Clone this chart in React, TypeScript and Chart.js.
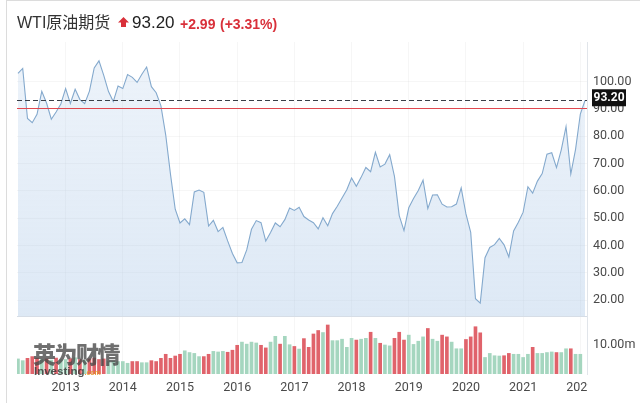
import React, { useEffect, useRef } from "react";
import { Chart, registerables } from "chart.js";

Chart.register(...registerables);

// ---------- data ----------
const TITLE = "WTI原油期货";
const LAST_PRICE = 93.2;
const PREV_CLOSE = 90.21;
const LAST_PRICE_TEXT = "93.20";
const CHANGE_TEXT = "+2.99";
const CHANGE_PCT_TEXT = "(+3.31%)";

const START_YEAR = 2012;
const START_MONTH = 3;

// monthly closes, Mar 2012 .. Feb 2022
const PRICE_CLOSE: number[] = [
  103.02, 104.87, 86.53, 84.96, 88.06, 96.47, 92.19, 86.24, 88.91, 91.82,
  97.49, 92.05, 97.23, 93.46, 91.97, 96.56, 105.03, 107.65, 102.33, 96.38, 92.72, 98.42,
  97.49, 102.59, 101.58, 99.74, 102.71, 105.37, 98.17, 95.96, 91.16, 80.54, 66.15, 53.27,
  48.24, 49.76, 47.6, 59.63, 60.3, 59.47, 47.12, 49.2, 45.09, 46.59, 41.65, 37.04,
  33.62, 33.75, 38.34, 45.92, 49.1, 48.33, 41.6, 44.7, 48.24, 46.86, 49.44, 53.72,
  52.81, 54.01, 50.6, 49.33, 48.32, 46.04, 50.17, 47.23, 51.67, 54.38, 57.4, 60.42,
  64.73, 61.64, 64.94, 68.57, 67.04, 74.15, 68.76, 69.8, 73.25, 65.31, 50.93, 45.41,
  53.79, 57.22, 60.14, 63.91, 53.5, 58.47, 58.58, 55.1, 54.07, 54.18, 55.17, 61.06,
  51.56, 44.76, 20.48, 18.84, 35.49, 39.27, 40.27, 42.61, 40.22, 35.79, 45.34, 48.52,
  52.2, 61.5, 59.16, 63.58, 66.32, 73.47, 73.95, 68.5, 75.03, 83.57, 66.18, 75.21,
  88.15, 93.2,
];

// monthly volume, millions
const VOLUME_M: (number | null)[] = [
  5.2, 4.6, 5.4, 6.0, 5.5, 5.0, 5.2, 4.8, 5.5, 4.9, 5.0, 5.3, 5.6, 5.0, 4.7, 5.2, 5.5, 5.0, 5.2, 4.5, 4.4,
  4.3, 4.3, 3.7, 4.3, 4.3, 3.9, 3.9, 4.6, 4.3, 5.4, 6.8, 5.4, 6.2, 6.8,
  8.0, 7.4, 7.1, 6.0, 6.0, 6.8, 7.8, 7.6,
  7.8, 7.5, 8.2, 9.9, 11.0, 10.3, 11.0, 10.7, 9.9, 9.0, 11.0, 13.0, 10.3, 13.0, 10.1, 9.5, 8.6, 12.2, 9.2, 13.8, 15.0,
  14.3, 16.9, 11.5, 11.5, 12.0, 9.2, 12.3, 11.7, 12.0, 12.3, 14.4, 12.3, 10.6, 10.0, 9.7, 12.3, 14.4, 11.7,
  13.4, 10.2, 11.3, 12.8, 15.7, 12.0, 11.3, 13.4, 12.8, 11.0, 8.7, 8.7, 11.9, 12.8, 16.3, 14.2,
  5.7, 7.1, 6.3, 6.2, 6.3, 7.1, 6.8, 6.8, 5.7, 6.8, 9.2, 7.1, 7.1, 7.4, 7.6, 7.4, 7.4, 8.7, 8.7, 6.8, 6.8,
  null,
];

// bar colour per month: r = red, g = green
const VOLUME_DIR: string[] = [
  "g", "g", "r", "r", "r", "g", "r", "g", "r", "g", "g", "r", "g", "r", "g", "r", "r", "r", "r", "g", "g",
  "g", "g", "g", "r", "r", "g", "g", "r", "r", "r", "r", "r", "r", "r",
  "g", "g", "g", "g", "r", "r", "g", "g",
  "g", "r", "r", "r", "g", "g", "g", "g", "r", "r", "g", "g", "r", "g", "g", "r", "g", "r", "r", "r", "r",
  "g", "r", "g", "g", "g", "g", "g", "r", "g", "g", "r", "g", "r", "g", "g", "r", "r", "r",
  "g", "g", "g", "g", "r", "g", "g", "r", "r", "g", "g", "g", "r", "r", "r", "r",
  "g", "g", "g", "g", "r", "r", "g", "g", "g", "g", "r", "g", "g", "g", "g", "r", "g", "g", "r", "g", "g",
  "g",
];

const YEAR_TICK_LABELS = ["2013", "2014", "2015", "2016", "2017", "2018", "2019", "2020", "2021", "2022"];
const PRICE_TICKS = [20, 30, 40, 50, 60, 70, 80, 90, 100];
const VOLUME_TICKS = [10];

const MONTH_LABELS: string[] = PRICE_CLOSE.map((_, i) => {
  const m = START_MONTH - 1 + i;
  const y = START_YEAR + Math.floor(m / 12);
  const mm = (m % 12) + 1;
  return `${y}-${mm < 10 ? "0" + mm : mm}`;
});
const YEAR_TICK_INDEX = YEAR_TICK_LABELS.map((y) => MONTH_LABELS.indexOf(`${y}-01`));

// ---------- styles ----------
const LINE_COLOR = "#84a9cd";
const RED = "#e0636b";
const GREEN = "#a5d6bf";
const GRID = "rgba(0,0,0,0.035)";
const AXIS_TEXT = "#4a4a4a";
const FONT = "Roboto, 'Liberation Sans', Arial, sans-serif";

const overlayPlugin = {
  id: "overlay",
  afterDatasetsDraw(chart: any) {
    const { ctx, chartArea } = chart;
    const ys = chart.scales.y;
    ctx.save();
    // panel separator
    ctx.strokeStyle = "#d6dde6";
    ctx.lineWidth = 1;
    ctx.beginPath();
    ctx.moveTo(chartArea.left, Math.round(ys.bottom) + 0.5);
    ctx.lineTo(chartArea.right, Math.round(ys.bottom) + 0.5);
    ctx.stroke();
    // previous close line
    const yPrev = Math.round(ys.getPixelForValue(PREV_CLOSE)) + 0.5;
    ctx.strokeStyle = "#e0474f";
    ctx.beginPath();
    ctx.moveTo(chartArea.left, yPrev);
    ctx.lineTo(chartArea.right, yPrev);
    ctx.stroke();
    // last price dashed line
    const yLast = Math.round(ys.getPixelForValue(LAST_PRICE)) + 0.5;
    ctx.strokeStyle = "#3a3f47";
    ctx.setLineDash([5, 3]);
    ctx.beginPath();
    ctx.moveTo(chartArea.left, yLast);
    ctx.lineTo(chartArea.right, yLast);
    ctx.stroke();
    ctx.restore();
  },
  afterDraw(chart: any) {
    const { ctx, chartArea } = chart;
    const ys = chart.scales.y;
    const yLast = ys.getPixelForValue(LAST_PRICE);
    ctx.save();
    ctx.fillStyle = "#111";
    ctx.fillRect(chartArea.right + 5, yLast - 11, 34, 17);
    ctx.fillStyle = "#fff";
    ctx.font = `bold 12px ${FONT}`;
    ctx.textAlign = "center";
    ctx.textBaseline = "middle";
    ctx.fillText(LAST_PRICE_TEXT, chartArea.right + 22, yLast - 2.5);
    // right panel background over the last year label's overflow
    ctx.fillStyle = "#fff";
    ctx.fillRect(chartArea.right + 1, chartArea.bottom + 2, 60, 30);
    ctx.restore();
  },
};

export default function App() {
  const ref = useRef<HTMLCanvasElement | null>(null);

  useEffect(() => {
    const canvas = ref.current;
    if (!canvas) return;
    const chart = new Chart(canvas, {
      type: "bar",
      data: {
        datasets: [
          {
            type: "line",
            label: "WTI",
            data: PRICE_CLOSE.map((v, i) => ({ x: i, y: v })),
            yAxisID: "y",
            xAxisID: "x",
            borderColor: LINE_COLOR,
            borderWidth: 1.1,
            pointRadius: 0,
            tension: 0,
            fill: "start",
            order: 1,
            backgroundColor: (c: any) => {
              const ch = c.chart;
              const ys = ch.scales && ch.scales.y;
              if (!ch.chartArea || !ys) return "rgba(175,200,228,0.3)";
              const g = ch.ctx.createLinearGradient(0, ys.top, 0, ys.bottom);
              g.addColorStop(0, "rgba(175,202,232,0.22)");
              g.addColorStop(1, "rgba(175,202,232,0.42)");
              return g;
            },
          } as any,
          {
            type: "bar",
            label: "Volume",
            data: VOLUME_M.map((v, i) => ({ x: i, y: v })),
            yAxisID: "yv",
            xAxisID: "x",
            backgroundColor: VOLUME_DIR.map((d) => (d === "r" ? RED : GREEN)),
            barThickness: 3,
            order: 2,
          } as any,
        ],
      },
      options: {
        animation: false,
        responsive: false,
        events: [],
        layout: { padding: { left: 17, top: 42, right: 0, bottom: 0 } },
        plugins: { legend: { display: false }, tooltip: { enabled: false } },
        scales: {
          x: {
            type: "linear",
            min: -0.2,
            max: 119.4,
            offset: false,
            grid: { color: GRID, drawTicks: false, offset: false },
            border: { display: false },
            afterBuildTicks: (s: any) => {
              s.ticks = YEAR_TICK_INDEX.map((v) => ({ value: v }));
            },
            afterFit: (s: any) => {
              s.height = 29;
            },
            ticks: {
              autoSkip: false,
              maxRotation: 0,
              padding: 6,
              color: AXIS_TEXT,
              font: { family: FONT, size: 12.5 },
              callback: (v: any) => {
                const k = YEAR_TICK_INDEX.indexOf(Number(v));
                return k >= 0 ? YEAR_TICK_LABELS[k] : "";
              },
            },
          },
          y: {
            type: "linear",
            position: "right",
            stack: "panels",
            stackWeight: 274,
            min: 14.14,
            max: 114.55,
            grid: { color: GRID, drawTicks: false },
            border: { display: true, color: "#e1e5ea" },
            afterBuildTicks: (s: any) => {
              s.ticks = PRICE_TICKS.map((v) => ({ value: v }));
            },
            afterFit: (s: any) => {
              s.width = 53;
            },
            ticks: {
              padding: 6,
              color: AXIS_TEXT,
              font: { family: FONT, size: 12.5 },
              callback: (v: any) => Number(v).toFixed(2),
            },
          },
          yv: {
            type: "linear",
            position: "right",
            stack: "panels",
            stackWeight: 58,
            min: 0,
            max: 20,
            grid: { display: false, drawTicks: false },
            border: { display: true, color: "#e1e5ea" },
            afterBuildTicks: (s: any) => {
              s.ticks = VOLUME_TICKS.map((v) => ({ value: v }));
            },
            afterFit: (s: any) => {
              s.width = 53;
            },
            ticks: {
              padding: 6,
              color: AXIS_TEXT,
              font: { family: FONT, size: 12.5 },
              callback: (v: any) => Number(v).toFixed(2) + "m",
            },
          },
        },
      } as any,
      plugins: [overlayPlugin],
    });
    return () => chart.destroy();
  }, []);

  const titleFont = "'Liberation Sans', Arial, 'Noto Sans CJK SC', sans-serif";

  return (
    <div
      style={{
        position: "fixed",
        left: 0,
        top: 0,
        width: 640,
        height: 403,
        background: "#fff",
        overflow: "hidden",
      }}
    >
      <div
        style={{
          position: "absolute",
          left: 6,
          top: 0,
          width: 640,
          height: 403,
          borderLeft: "1px solid #dcdcdc",
          borderTop: "1px solid #dcdcdc",
          boxSizing: "border-box",
        }}
      />
      <canvas ref={ref} width={640} height={403} style={{ position: "absolute", left: 0, top: 0, width: 640, height: 403 }} />
      <div style={{ position: "absolute", left: 17, top: 13, fontFamily: titleFont, fontSize: 16, color: "#333", lineHeight: "20px", whiteSpace: "nowrap" }}>
        {TITLE}
      </div>
      <svg style={{ position: "absolute", left: 118, top: 17 }} width={11} height={11} viewBox="0 0 11 11">
        <path d="M5.5 0 L11 5.5 L8 5.5 L8 10 L3 10 L3 5.5 L0 5.5 Z" fill="#d9303a" />
      </svg>
      <div style={{ position: "absolute", left: 132, top: 12, fontFamily: titleFont, fontSize: 17, color: "#222", lineHeight: "22px", whiteSpace: "nowrap" }}>
        {LAST_PRICE_TEXT}
      </div>
      <div style={{ position: "absolute", left: 180, top: 14, fontFamily: titleFont, fontSize: 14, fontWeight: "bold", color: "#d9303a", lineHeight: "20px", whiteSpace: "nowrap" }}>
        {CHANGE_TEXT}
      </div>
      <div style={{ position: "absolute", left: 220, top: 14, fontFamily: titleFont, fontSize: 14, fontWeight: "bold", color: "#d9303a", lineHeight: "20px", whiteSpace: "nowrap" }}>
        {CHANGE_PCT_TEXT}
      </div>
      <div style={{ position: "absolute", left: 33, top: 339, fontFamily: "'Noto Sans CJK SC', sans-serif", fontSize: 23, fontWeight: 900, color: "rgba(70,70,70,0.78)", lineHeight: "28px", letterSpacing: -1.5, whiteSpace: "nowrap" }}>
        英为财情
      </div>
      <div style={{ position: "absolute", left: 34, top: 364, fontFamily: "'Liberation Sans', Arial, sans-serif", fontSize: 11.5, fontWeight: "bold", color: "rgba(60,60,60,0.85)", lineHeight: "14px", whiteSpace: "nowrap" }}>
        Investing<span style={{ fontSize: 7, color: "rgba(230,150,40,0.9)" }}>.com</span>
      </div>
    </div>
  );
}
